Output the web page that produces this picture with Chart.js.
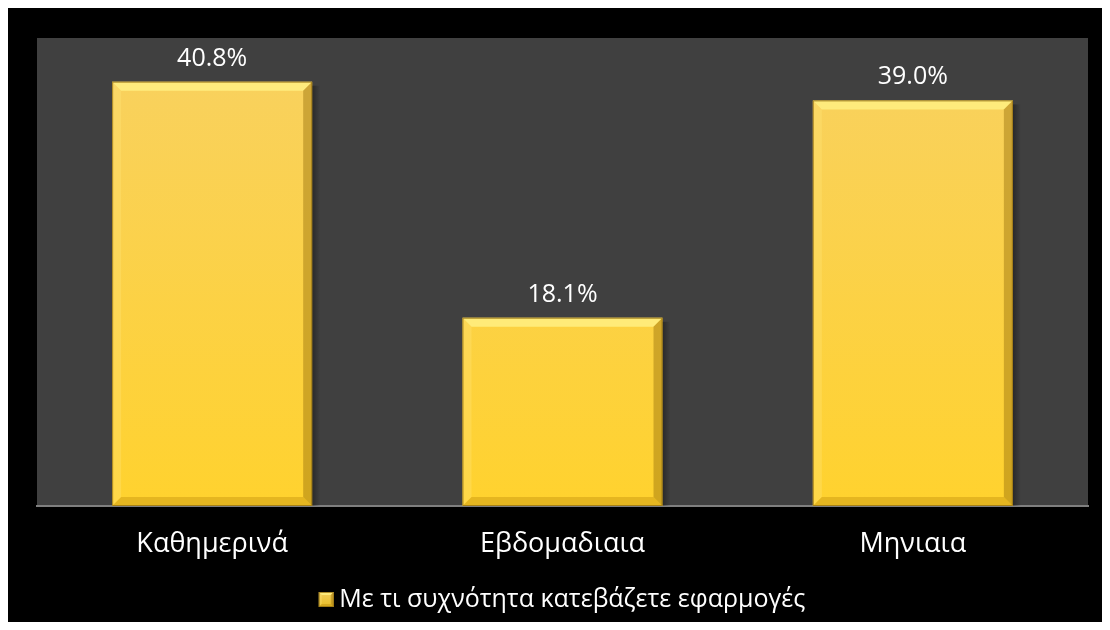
<!DOCTYPE html>
<html lang="el">
<head>
<meta charset="utf-8">
<title>Με τι συχνότητα κατεβάζετε εφαρμογές</title>
<script src="https://cdn.jsdelivr.net/npm/chart.js@4"></script>
<style>
    html, body { margin: 0; padding: 0; background: #ffffff; }
    .wrap {
        position: absolute;
        left: 8px; top: 8px;
        width: 1094px; height: 614px;
        background: #000000;
    }
    canvas { display: block; }
</style>
</head>
<body>
<div class="wrap"><canvas id="freqChart" width="1094" height="614"></canvas></div>
<script>
// Dati del grafico
const categories = ['Καθημερινά', 'Εβδομαδιαια', 'Μηνιαια'];
const seriesName = 'Με τι συχνότητα κατεβάζετε εφαρμογές';
const seriesValues = [40.8, 18.1, 39.0];
const yMax = 45;

const FONT = "'Open Sans', 'DejaVu Sans', sans-serif";
const LEGEND_BOX = 15;

// Sfondo grigio dell'area del grafico
const plotBackground = {
    id: 'plotBackground',
    beforeDraw(chart) {
        const { ctx, chartArea: a } = chart;
        ctx.save();
        ctx.fillStyle = '#404040';
        ctx.fillRect(a.left, a.top, a.right - a.left, a.bottom - a.top);
        ctx.restore();
    }
};

// Effetto smussato sulle barre
function drawBevel(ctx, x0, y0, x1, y1, b, shadow) {
    if (shadow) {
        // ombra a destra
        const sh = ctx.createLinearGradient(x1, 0, x1 + 8, 0);
        sh.addColorStop(0, 'rgba(0,0,0,0.35)');
        sh.addColorStop(1, 'rgba(0,0,0,0)');
        ctx.fillStyle = sh;
        ctx.fillRect(x1, y0 + 4, 8, y1 - y0 - 4);
    }

    // lato superiore chiaro
    ctx.fillStyle = 'rgba(255,240,130,0.85)';
    ctx.beginPath();
    ctx.moveTo(x0, y0); ctx.lineTo(x1, y0);
    ctx.lineTo(x1 - b, y0 + b); ctx.lineTo(x0 + b, y0 + b);
    ctx.closePath(); ctx.fill();

    // lato sinistro
    ctx.fillStyle = 'rgba(255,230,120,0.35)';
    ctx.beginPath();
    ctx.moveTo(x0, y0); ctx.lineTo(x0 + b, y0 + b);
    ctx.lineTo(x0 + b, y1 - b); ctx.lineTo(x0, y1);
    ctx.closePath(); ctx.fill();

    // lato destro scuro
    ctx.fillStyle = 'rgba(150,110,10,0.45)';
    ctx.beginPath();
    ctx.moveTo(x1, y0); ctx.lineTo(x1, y1);
    ctx.lineTo(x1 - b, y1 - b); ctx.lineTo(x1 - b, y0 + b);
    ctx.closePath(); ctx.fill();

    // lato inferiore
    ctx.fillStyle = 'rgba(170,120,0,0.3)';
    ctx.beginPath();
    ctx.moveTo(x0, y1); ctx.lineTo(x1, y1);
    ctx.lineTo(x1 - b, y1 - b); ctx.lineTo(x0 + b, y1 - b);
    ctx.closePath(); ctx.fill();

    // contorno sottile
    ctx.strokeStyle = 'rgba(150,115,20,0.8)';
    ctx.lineWidth = 1;
    ctx.strokeRect(x0 + 0.5, y0 + 0.5, x1 - x0 - 1, y1 - y0 - 1);
}

const barBevel = {
    id: 'barBevel',
    afterDatasetsDraw(chart) {
        const { ctx } = chart;
        const meta = chart.getDatasetMeta(0);
        ctx.save();
        meta.data.forEach(bar => {
            const p = bar.getProps(['x', 'y', 'base', 'width'], true);
            drawBevel(ctx, p.x - p.width / 2, p.y, p.x + p.width / 2, p.base, 9, true);
        });
        ctx.restore();
    }
};

// Etichette con i valori sopra le barre
const valueLabels = {
    id: 'valueLabels',
    afterDatasetsDraw(chart) {
        const { ctx } = chart;
        const meta = chart.getDatasetMeta(0);
        ctx.save();
        ctx.fillStyle = '#ffffff';
        ctx.font = '25px ' + FONT;
        ctx.textAlign = 'center';
        ctx.textBaseline = 'alphabetic';
        meta.data.forEach((bar, i) => {
            ctx.fillText(seriesValues[i].toFixed(1) + '%', bar.x, bar.y - 16);
        });
        ctx.restore();
    }
};

// Quadratino della legenda con lo stesso effetto
const legendBox = {
    id: 'legendBox',
    afterDraw(chart) {
        const legend = chart.legend;
        if (!legend || !legend.legendHitBoxes.length) return;
        const hb = legend.legendHitBoxes[0];
        const { ctx } = chart;
        const s = LEGEND_BOX;
        const x0 = hb.left - 1, y0 = hb.top + (hb.height - s) / 2;
        ctx.save();
        const g = ctx.createLinearGradient(0, y0, 0, y0 + s);
        g.addColorStop(0, '#f3cf5c');
        g.addColorStop(1, '#e8bd25');
        ctx.fillStyle = g;
        ctx.fillRect(x0, y0, s, s);
        drawBevel(ctx, x0, y0, x0 + s, y0 + s, 3, false);
        ctx.restore();
    }
};

const ctx = document.getElementById('freqChart');

new Chart(ctx, {
    type: 'bar',
    data: {
        labels: categories,
        datasets: [{
            label: seriesName,
            data: seriesValues,
            backgroundColor: function(context) {
                const area = context.chart.chartArea;
                if (!area) return '#fbd245';
                const g = context.chart.ctx.createLinearGradient(0, area.top, 0, area.bottom);
                g.addColorStop(0, '#f8d162');
                g.addColorStop(1, '#ffd22e');
                return g;
            },
            borderWidth: 0,
            categoryPercentage: 0.571,
            barPercentage: 1.0
        }]
    },
    options: {
        responsive: false,
        animation: false,
        layout: {
            padding: { left: 29, right: 14, top: 30, bottom: 0 }
        },
        scales: {
            x: {
                grid: { display: false, drawTicks: false },
                border: { display: true, color: '#7f7f7f', width: 2 },
                ticks: {
                    color: '#ffffff',
                    font: { family: FONT, size: 27 },
                    padding: 22
                },
                afterFit(scale) {
                    scale.height = 73;
                }
            },
            y: {
                display: false,
                min: 0,
                max: yMax
            }
        },
        plugins: {
            legend: {
                position: 'bottom',
                labels: {
                    color: '#ffffff',
                    font: { family: FONT, size: 25 },
                    boxWidth: 7,
                    boxHeight: LEGEND_BOX,
                    padding: 8,
                    generateLabels: function(chart) {
                        return [{
                            text: seriesName,
                            fillStyle: 'rgba(0,0,0,0)',
                            strokeStyle: 'rgba(0,0,0,0)',
                            lineWidth: 0,
                            fontColor: '#ffffff',
                            datasetIndex: 0
                        }];
                    }
                }
            },
            tooltip: { enabled: false }
        }
    },
    plugins: [plotBackground, barBevel, valueLabels, legendBox]
});
</script>
</body>
</html>
